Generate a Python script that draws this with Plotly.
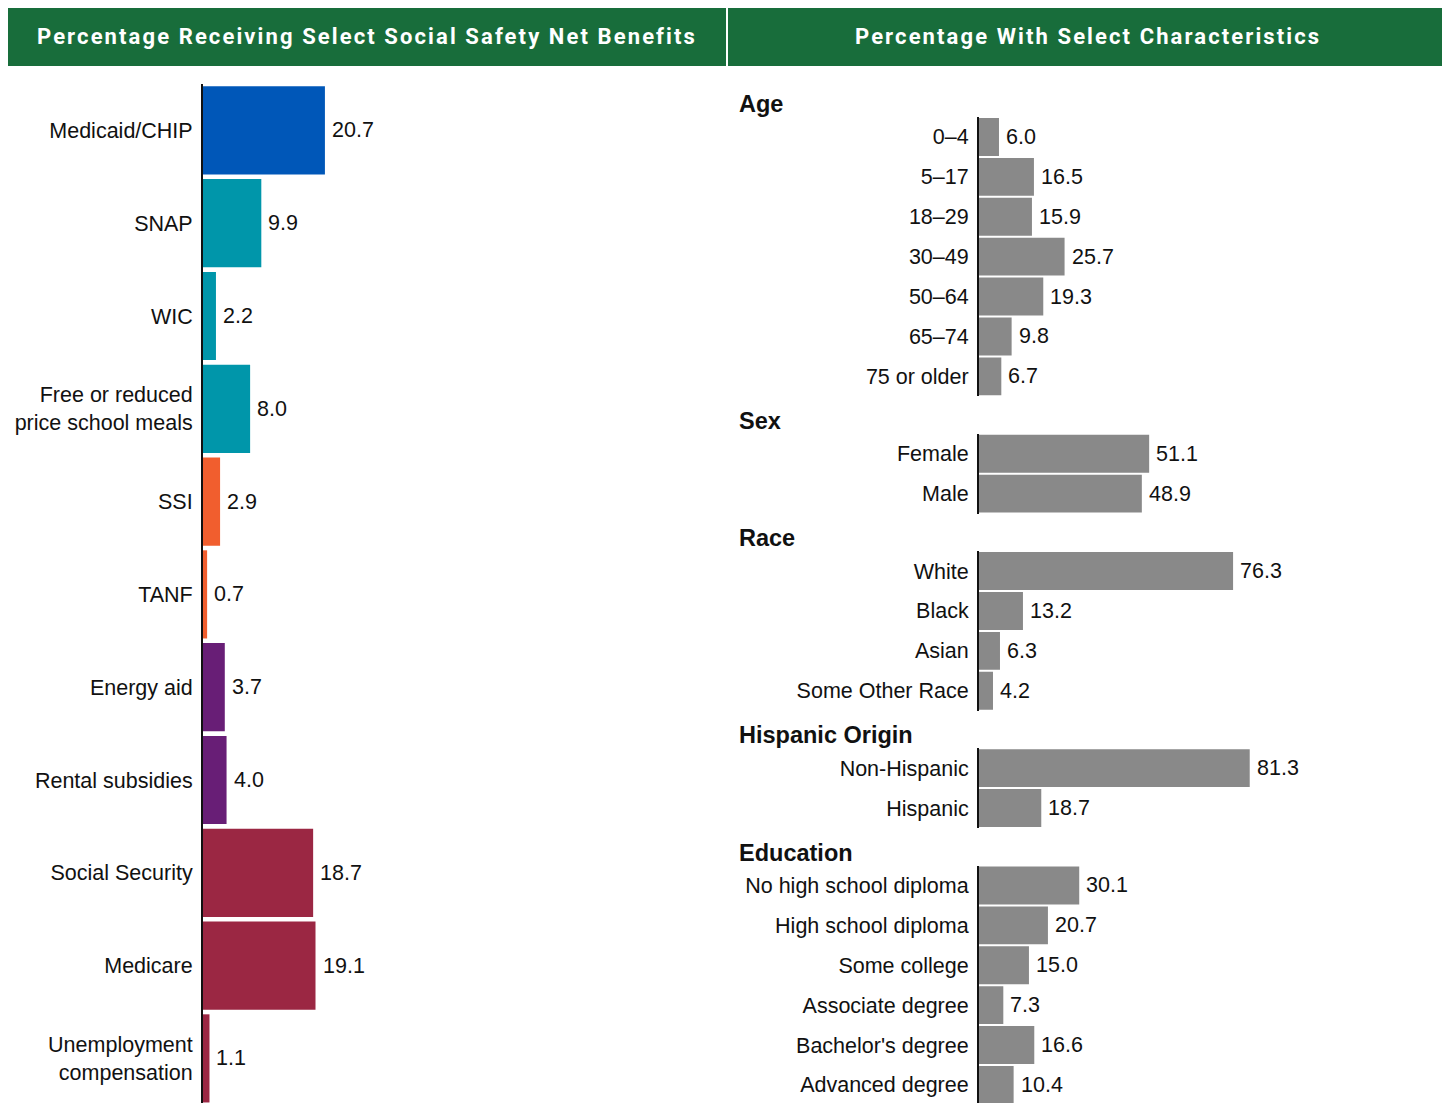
import plotly.graph_objects as go

# ---------------- data ----------------
benefit_labels = ["Medicaid/CHIP", "SNAP", "WIC", "Free or reduced<br>price school meals",
                  "SSI", "TANF", "Energy aid", "Rental subsidies", "Social Security",
                  "Medicare", "Unemployment<br>compensation"]
benefit_values = [20.7, 9.9, 2.2, 8.0, 2.9, 0.7, 3.7, 4.0, 18.7, 19.1, 1.1]
benefit_types = ["health", "food", "food", "food", "cash", "cash",
                 "housing", "housing", "insurance", "insurance", "insurance"]

group_names = ["Age", "Sex", "Race", "Hispanic Origin", "Education"]
age_labels = ["0–4", "5–17", "18–29", "30–49", "50–64", "65–74", "75 or older"]
age_values = [6.0, 16.5, 15.9, 25.7, 19.3, 9.8, 6.7]
sex_labels = ["Female", "Male"]
sex_values = [51.1, 48.9]
race_labels = ["White", "Black", "Asian", "Some Other Race"]
race_values = [76.3, 13.2, 6.3, 4.2]
hisp_labels = ["Non-Hispanic", "Hispanic"]
hisp_values = [81.3, 18.7]
edu_labels = ["No high school diploma", "High school diploma", "Some college",
              "Associate degree", "Bachelor's degree", "Advanced degree"]
edu_values = [30.1, 20.7, 15.0, 7.3, 16.6, 10.4]

titles = ["Percentage Receiving Select Social Safety Net Benefits",
          "Percentage With Select Characteristics"]

# ---------------- style ----------------
type_colors = {"health": "#0057B8", "food": "#0096AA", "cash": "#F15E2E",
               "housing": "#681E76", "insurance": "#9B2743"}
GRAY = "#898989"
GREEN = "#186D3B"
FONT = "Liberation Sans, Arial, sans-serif"
LABEL_SIZE = 21.5
INK = "#111111"

# page offset (body margin) and figure size
OX, OY = 8, 8
W, H = 1450 - OX, 1103 - OY


def px_x(x):
    return (x - OX) / W


def px_y(y):
    return 1 - (y - OY) / H


fig = go.Figure()
annotations = []
layout = dict(
    width=W, height=H, margin=dict(l=0, r=0, t=0, b=0),
    paper_bgcolor="white", plot_bgcolor="white", showlegend=False,
    font=dict(family=FONT, size=LABEL_SIZE, color=INK),
)

# ---------------- left panel ----------------
left_axis_x = 203
left_scale = 5.89      # px per unit
left_top = 84
left_slot = 92.8
left_h = 1103 - left_top
fig.add_trace(go.Bar(
    orientation="h", y=benefit_labels, x=benefit_values,
    marker=dict(color=[type_colors[t] for t in benefit_types], line=dict(width=0)),
    width=0.95, xaxis="x", yaxis="y", hoverinfo="skip",
))
layout["xaxis"] = dict(domain=[px_x(left_axis_x), px_x(726)],
                       range=[0, (726 - left_axis_x) / left_scale],
                       visible=False, anchor="y")
layout["yaxis"] = dict(domain=[0, px_y(left_top)],
                       range=[-0.5 + left_h / left_slot, -0.5],
                       type="category", anchor="x", showgrid=False, zeroline=False,
                       showline=True, linecolor=INK, linewidth=2,
                       ticks="", ticklabelstandoff=4,
                       tickfont=dict(size=LABEL_SIZE, color=INK, family=FONT))
for lab, val in zip(benefit_labels, benefit_values):
    annotations.append(dict(x=val, y=lab, xref="x", yref="y", text=f"{val:.1f}",
                            xanchor="left", yanchor="middle", xshift=5, showarrow=False,
                            font=dict(size=LABEL_SIZE, color=INK, family=FONT)))

# ---------------- right panel ----------------
right_axis_x = 979
right_scale = 3.33
row_h = 39.9
group_gap = 37.5
groups = [(age_labels, age_values), (sex_labels, sex_values), (race_labels, race_values),
          (hisp_labels, hisp_values), (edu_labels, edu_values)]
top = 117.0
for i, (name, (labs, vals)) in enumerate(zip(group_names, groups)):
    k = i + 2
    xa, ya = f"x{k}", f"y{k}"
    bottom = top + len(labs) * row_h
    dom_bottom = min(bottom, 1103)
    fig.add_trace(go.Bar(
        orientation="h", y=labs, x=vals, marker=dict(color=GRAY, line=dict(width=0)),
        width=0.95, xaxis=xa, yaxis=ya, hoverinfo="skip",
    ))
    layout[f"xaxis{k}"] = dict(domain=[px_x(right_axis_x), px_x(1447)],
                               range=[0, (1447 - right_axis_x) / right_scale],
                               visible=False, anchor=ya)
    layout[f"yaxis{k}"] = dict(domain=[px_y(dom_bottom), px_y(top)],
                               range=[-0.5 + (dom_bottom - top) / row_h, -0.5],
                               type="category", anchor=xa, showgrid=False, zeroline=False,
                               showline=True, linecolor=INK, linewidth=2,
                               ticks="", ticklabelstandoff=4,
                               tickfont=dict(size=LABEL_SIZE, color=INK, family=FONT))
    for lab, val in zip(labs, vals):
        annotations.append(dict(x=val, y=lab, xref=xa, yref=ya, text=f"{val:.1f}",
                                xanchor="left", yanchor="middle", xshift=5, showarrow=False,
                                font=dict(size=LABEL_SIZE, color=INK, family=FONT)))
    annotations.append(dict(x=px_x(737), y=px_y(top - 13), xref="paper", yref="paper",
                            text=f"<b>{name}</b>", xanchor="left", yanchor="middle",
                            showarrow=False,
                            font=dict(size=23.5, color=INK, family=FONT)))
    top = bottom + group_gap

# ---------------- header bars ----------------
shapes = []
for (x0, x1), title in zip([(7, 726), (728, 1447)], titles):
    shapes.append(dict(type="rect", xref="paper", yref="paper",
                       x0=px_x(x0), x1=px_x(x1), y0=px_y(66), y1=px_y(7),
                       fillcolor=GREEN, line=dict(width=0), layer="below"))
    annotations.append(dict(x=px_x((x0 + x1) / 2), y=px_y(37), xref="paper", yref="paper",
                            text=f'<span style="letter-spacing:2.1px"><b>{title}</b></span>',
                            xanchor="center", yanchor="middle",
                            showarrow=False,
                            font=dict(size=22, color="white", family="Roboto, sans-serif")))

layout["shapes"] = shapes
layout["annotations"] = annotations
fig.update_layout(**layout)
fig.write_html("out.html")
